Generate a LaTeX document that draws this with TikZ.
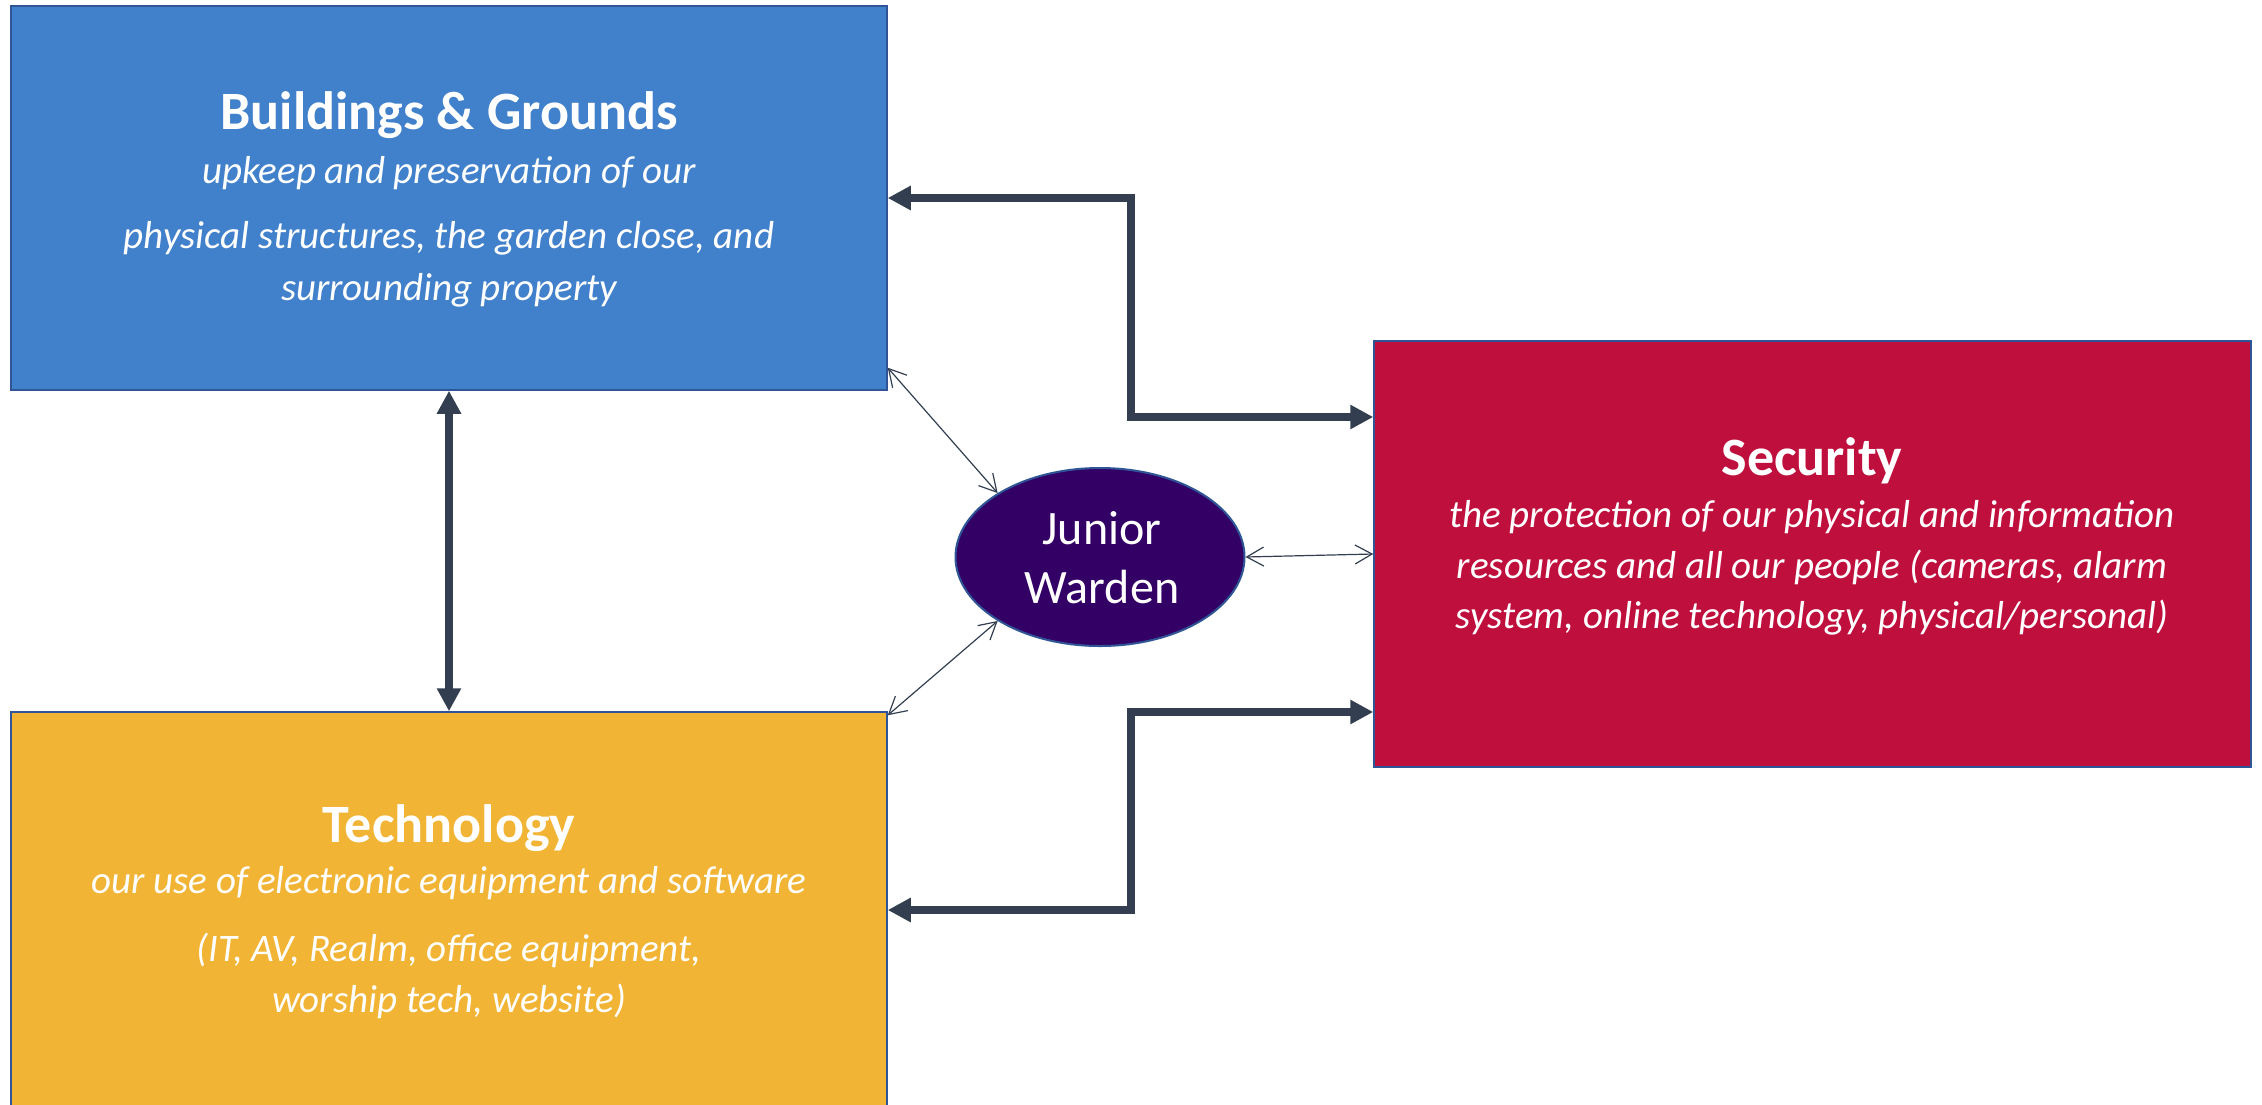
\documentclass[tikz,border=0pt]{standalone}
\usepackage{fontspec}
\setmainfont{Carlito}
\usetikzlibrary{arrows.meta,shapes.geometric}
\definecolor{bgblue}{HTML}{4180CA}
\definecolor{secred}{HTML}{BF0F3D}
\definecolor{techgold}{HTML}{F1B434}
\definecolor{jwpurple}{HTML}{330066}
\definecolor{boxline}{HTML}{2F5597}
\definecolor{arrowc}{HTML}{333F50}
\begin{document}
\begin{tikzpicture}[x=1pt,y=-1pt,
  box/.style={rectangle, draw=boxline, line width=1.5pt, inner sep=0pt},
  ttl/.style={text=white, inner sep=0pt, anchor=base, font=\fontsize{54}{62}\selectfont\bfseries},
  sub/.style={text=white, inner sep=0pt, anchor=base, font=\fontsize{39}{46}\selectfont\itshape},
  jwtext/.style={text=white, inner sep=0pt, anchor=base, font=\fontsize{48}{56}\selectfont},
  bigarrow/.style={draw=arrowc, line width=7.7pt, {Triangle[length=23pt,width=23pt]}-{Triangle[length=23pt,width=23pt]}},
  thinarrow/.style={draw=arrowc, line width=1.2pt, {Straight Barb[length=17pt,width=19pt]}-{Straight Barb[length=17pt,width=19pt]}}
]
\useasboundingbox (0,0) rectangle (2262,1104);
\clip (0,0) rectangle (2262,1104);
\fill[white] (0,0) rectangle (2262,1104);

% boxes
\node[box, fill=bgblue, minimum width=876pt, minimum height=384pt] (bg) at (449,198) {};
\node[box, fill=techgold, minimum width=876pt, minimum height=396pt] (tech) at (449,910) {};
\node[box, fill=secred, minimum width=877pt, minimum height=426pt] (sec) at (1812.5,554) {};
\node[ellipse, draw=boxline, line width=2pt, fill=jwpurple, inner sep=0pt, minimum width=289pt, minimum height=178pt] (jw) at (1100,557) {};

% texts
\node[ttl] (bgt) at (449,129) {Buildings \& Grounds};
\node[sub] (bg1) at (449,183) {upkeep and preservation of our};
\node[sub] (bg2) at (449,248) {physical structures, the garden close, and};
\node[sub] (bg3) at (449,300) {surrounding property};

\node[ttl] (sect) at (1812,475) {Security};
\node[sub] (sec1) at (1812,527) {the protection of our physical and information};
\node[sub] (sec2) at (1812,578) {resources and all our people (cameras, alarm};
\node[sub] (sec3) at (1812,628) {system, online technology, physical/personal)};

\node[ttl] (techt) at (449,842) {Technology};
\node[sub] (tech1) at (449,893) {our use of electronic equipment and software};
\node[sub] (tech2) at (449,961) {(IT, AV, Realm, office equipment,};
\node[sub] (tech3) at (449,1012) {worship tech, website)};

\node[jwtext] (jw1) at (1102,544) {Junior};
\node[jwtext] (jw2) at (1102,603) {Warden};

% connectors
\coordinate (kA) at (1131,417);
\coordinate (kB) at (1131,910);
\draw[bigarrow] (bg.east) -| (kA) -- ([yshift=137pt]sec.west);
\draw[bigarrow] (tech.east) -- (kB) |- ([yshift=-158pt]sec.west);
\draw[bigarrow] (bg.south) -- (tech.north);

\draw[thinarrow] ([yshift=23pt]bg.south east) -- (jw.148);
\draw[thinarrow] ([yshift=-4pt]tech.north east) -- (jw.212);
\draw[thinarrow] (jw.east) -- (sec.west);
\end{tikzpicture}
\end{document}
